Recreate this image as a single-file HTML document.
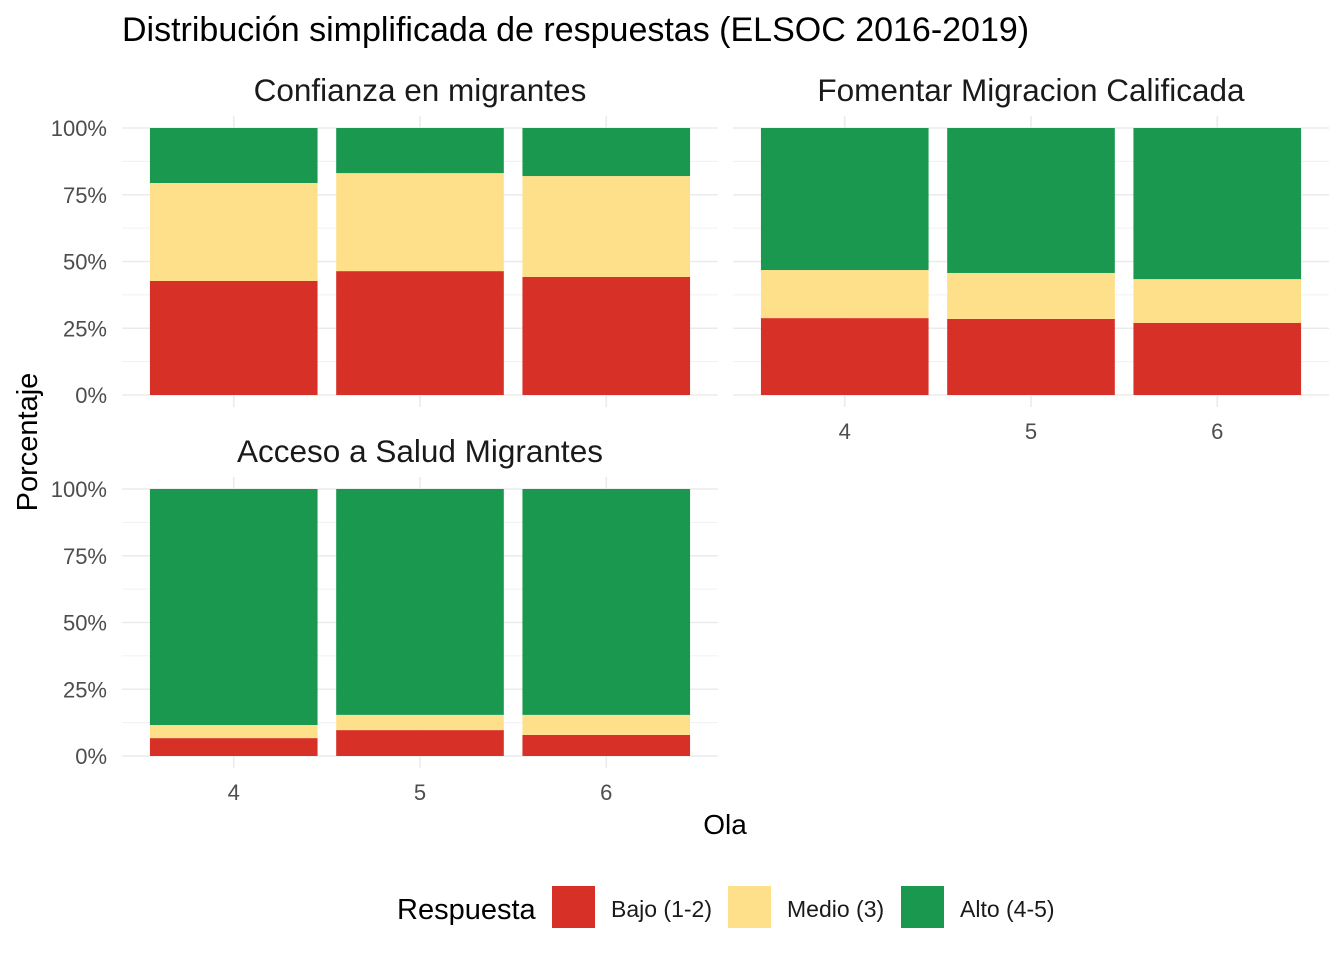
<!DOCTYPE html>
<html><head><meta charset="utf-8"><style>
body{margin:0;background:#fff}
svg text{font-family:"Liberation Sans",sans-serif}
</style></head><body>
<svg id="chart" width="1344" height="960" viewBox="0 0 1344 960" xmlns="http://www.w3.org/2000/svg">
<text x="122" y="41" font-size="34" fill="#000">Distribución simplificada de respuestas (ELSOC 2016-2019)</text>
<text x="37" y="442" font-size="29" fill="#000" transform="rotate(-90 37 442)" text-anchor="middle">Porcentaje</text>
<text x="725" y="834" font-size="28" fill="#000" text-anchor="middle">Ola</text>
<g id="legend">
<text x="397" y="919" font-size="29" fill="#000">Respuesta</text>
<rect x="552" y="886" width="43" height="42" fill="#D73027"/>
<text x="611" y="917" font-size="23" fill="#1a1a1a">Bajo (1-2)</text>
<rect x="728" y="886" width="43" height="42" fill="#FEE08B"/>
<text x="787" y="917" font-size="23" fill="#1a1a1a">Medio (3)</text>
<rect x="901" y="886" width="43" height="42" fill="#1A9850"/>
<text x="960" y="917" font-size="23" fill="#1a1a1a">Alto (4-5)</text>
</g>
</svg>
<script>
const waves = ["4","5","6"];
const panelTitles = ["Confianza en migrantes","Fomentar Migracion Calificada","Acceso a Salud Migrantes"];
const bajo = [[42.7,46.4,44.2],[28.8,28.5,27.0],[6.7,9.7,7.9]];
const medio = [[36.7,36.7,37.8],[18.0,17.2,16.4],[4.9,5.7,7.5]];
const alto = [[20.6,16.9,18.0],[53.2,54.3,56.6],[88.4,84.6,84.6]];
const yTicks = [0,25,50,75,100];
const yTickLabels = ["0%","25%","50%","75%","100%"];

const svg = document.getElementById('chart');
const NS = "http://www.w3.org/2000/svg";
function mk(tag, attrs, parent){const e=document.createElementNS(NS,tag);for(const k in attrs)e.setAttribute(k,attrs[k]);(parent||svg).appendChild(e);return e;}
const panels = [{x0:122,x1:718,y0:395,y1:128,xlab:false,ylab:true},{x0:733,x1:1329,y0:395,y1:128,xlab:true,ylab:false},{x0:122,x1:718,y0:756,y1:489,xlab:true,ylab:true}];
const colors = ["#D73027","#FEE08B","#1A9850"];
const catNames = ["bajo","medio","alto"];
panels.forEach((p,pi)=>{
  const g = mk('g',{});
  
  
  const yScale = v => p.y0 + (p.y1-p.y0)*v/100;
  const step = (p.x1-p.x0)/(waves.length+0.2);
  const xScale = i => p.x0 + step*(0.6+i);
  for(let i=0;i<yTicks.length-1;i++){const v=(yTicks[i]+yTicks[i+1])/2;const l=mk('line',{x1:p.x0,x2:p.x1,y1:yScale(v),y2:yScale(v),stroke:'#f0f0f0','stroke-width':1},g);}
  yTicks.forEach((v,i)=>{
    const l=mk('line',{x1:p.x0,x2:p.x1,y1:yScale(v),y2:yScale(v),stroke:'#ebebeb','stroke-width':1.6},g);
    
    
    if(p.ylab){const t=mk('text',{x:p.x0-15,y:yScale(v)+8,'font-size':22,fill:'#4d4d4d','text-anchor':'end'},g);t.textContent=yTickLabels[i];
      
      }
  });
  waves.forEach((w,i)=>{
    const l=mk('line',{x1:xScale(i),x2:xScale(i),y1:p.y1-12,y2:p.y0+12,stroke:'#ebebeb','stroke-width':1.6},g);
    
    
    if(p.xlab){const t=mk('text',{x:xScale(i),y:p.y0+44,'font-size':22,fill:'#4d4d4d','text-anchor':'middle'},g);t.textContent=w;
      
      }
  });
  const bw = step*0.9;
  waves.forEach((w,i)=>{
    const vals=[bajo[pi][i],medio[pi][i],alto[pi][i]];
    let cum=0;
    vals.forEach((v,k)=>{
      const r=mk('rect',{x:xScale(i)-bw/2,y:yScale(cum+v),width:bw,height:yScale(cum)-yScale(cum+v),fill:colors[k]},g);
      
      
      cum+=v;
    });
  });
  const t=mk('text',{x:(p.x0+p.x1)/2,y:p.y1-27,'font-size':31.5,fill:'#1a1a1a','text-anchor':'middle'},g);
  t.textContent=panelTitles[pi];
  
  
});
</script>
</body></html>
